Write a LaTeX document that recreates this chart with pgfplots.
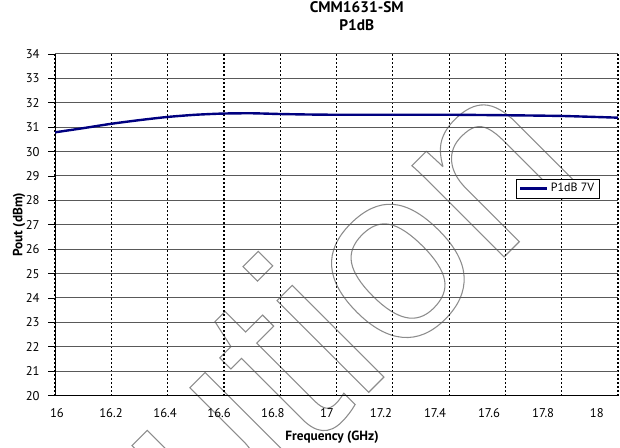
\documentclass[border=0pt]{standalone}
\usepackage{fontspec}
\setmainfont{PT Sans}
\newfontfamily\wmfont{Liberation Sans}
\usepackage{pgfplots}
\pgfplotsset{compat=1.18}
\definecolor{pnavy}{RGB}{0,0,128}
\definecolor{wmgray}{gray}{0.55}
\definecolor{hgrid}{gray}{0.35}
% outlined text through the pdf text render mode (xdvipdfmx)
\newcommand\outlined[1]{\special{pdf:literal direct 1 Tr 0.8 w}#1\special{pdf:literal direct 0 Tr}}

\begin{document}
% 1 unit = 1 px of the 620x448 picture; origin = lower left corner of the axis box
\begin{tikzpicture}[x=0.75pt,y=0.75pt]
\path[use as bounding box] (-55,-52.4) rectangle (565,395.6);
\begin{scope}
\clip (-55,-52.4) rectangle (565,395.6);
% watermark
\node[anchor=base west, inner sep=0pt, rotate=45, text=wmgray,
      font=\wmfont\fontsize{184}{184}\selectfont] at (-64.5,-374.9)
  {\outlined{Caution}};
\begin{axis}[
    scale only axis,
    width=422.25pt, height=256.2pt,
    xmin=16, xmax=18, ymin=20, ymax=34,
    axis x line*=bottom, axis y line*=left,
    axis line style={black, line width=0.75pt},
    % labels sit a little left of the grid lines, as in the original
    xtick={16.007,16.199,16.391,16.583,16.774,16.966,17.158,17.35,17.542,17.734,17.925},
    xticklabels={16,16.2,16.4,16.6,16.8,17,17.2,17.4,17.6,17.8,18},
    minor xtick={16,16.2,16.4,16.6,16.8,17,17.2,17.4,17.6,17.8,18},
    xtick style={draw=none},
    xticklabel style={yshift=-1pt},
    ytick={20,21,...,34},
    tick align=outside,
    major tick length=5pt, minor tick length=5pt,
    minor x tick style={black, line width=0.6pt},
    ytick style={black, line width=0.6pt},
    xminorgrids, ymajorgrids,
    minor x grid style={black, line width=0.9pt, dash pattern=on 1.5pt off 1.5pt},
    y grid style={hgrid, line width=0.75pt},
    /pgf/number format/assume math mode=true,
    ticklabel style={font=\fontsize{9.5}{11}\selectfont},
    yticklabel style={xshift=-3pt},
    title={CMM1631-SM\\P1dB},
    title style={font=\bfseries\fontsize{11.5}{14}\selectfont, align=center,
        at={(axis description cs:0.536,1.132)}, anchor=north, inner sep=0pt},
    xlabel={Frequency (GHz)},
    xlabel style={font=\bfseries\fontsize{10}{12}\selectfont,
        at={(axis description cs:0.492,-0.121)}, anchor=center},
    ylabel={Pout (dBm)},
    ylabel style={font=\bfseries\fontsize{10}{12}\selectfont,
        at={(axis description cs:-0.064,0.5)}, anchor=center},
    legend style={at={(0.968,0.634)}, anchor=north east, draw=black,
        line width=0.6pt, fill=white, font=\fontsize{9}{10}\selectfont,
        inner xsep=2pt, inner ysep=1pt},
    legend image code/.code={\draw[#1] (0pt,0pt) -- (20pt,0pt);},
]
\addplot[pnavy, line width=1.8pt, smooth, tension=0.4] coordinates {
    (16.0,30.79) (16.1,30.96) (16.2,31.14) (16.3,31.29) (16.4,31.42)
    (16.5,31.51) (16.6,31.56) (16.7,31.57) (16.8,31.54) (16.9,31.52)
    (17.0,31.51) (17.2,31.51) (17.4,31.51) (17.6,31.49) (17.8,31.46)
    (18.0,31.39)
};
\addlegendentry{P1dB 7V}
\end{axis}
\end{scope}
\end{tikzpicture}
\end{document}
